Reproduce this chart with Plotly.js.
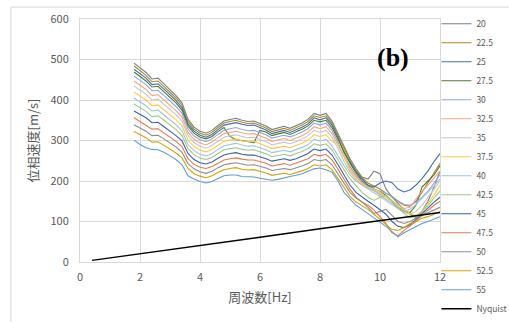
<!DOCTYPE html>
<html>
<head>
<meta charset="utf-8">
<script src="https://cdn.plot.ly/plotly-3.0.1.min.js"></script>
<style>html,body{margin:0;padding:0;background:#fff;}#chart{width:509px;height:322px;}</style>
</head>
<body>
<div id="chart"></div>
<script>
const freq = [1.8,2.0,2.2,2.4,2.6,2.8,3.0,3.2,3.4,3.6,3.8,4.0,4.2,4.4,4.6,4.8,5.0,5.2,5.4,5.6,5.8,6.0,6.2,6.4,6.6,6.8,7.0,7.2,7.4,7.6,7.8,8.0,8.2,8.4,8.6,8.8,9.0,9.2,9.4,9.6,9.8,10.0,10.2,10.4,10.6,10.8,11.0,11.2,11.4,11.6,11.8,12.0];

const seriesNames = ["20","22.5","25","27.5","30","32.5","35","37.5","40","42.5","45","47.5","50","52.5","55"];

const v20   = [491,479,468,452,454,440,426,411,393,352,333,323,318,325,337,348,352,355,350,347,348,342,336,327,331,335,330,336,343,352,367,362,367,348,316,284,255,231,210,205,224,218,180,160,145,130,118,110,125,150,185,225];
const v22_5 = [484,472,461,445,447,433,420,405,387,347,328,318,313,320,332,343,347,350,345,342,343,337,331,322,326,330,325,331,338,347,361,357,361,343,311,278,250,226,208,195,188,180,170,162,150,140,138,150,172,195,220,244];
const v25   = [476,465,454,438,440,427,413,399,381,341,323,313,308,315,327,338,341,344,340,337,338,332,326,317,321,325,320,326,333,341,356,351,356,338,307,270,245,222,205,190,185,195,200,196,180,173,178,190,206,225,248,268];
const v27_5 = [469,457,447,432,434,420,407,393,375,336,318,308,304,310,322,332,310,302,300,298,295,325,321,312,316,320,315,321,328,336,350,346,350,332,302,272,244,220,200,188,180,172,165,150,135,125,122,140,185,200,215,238];
const v30   = [459,448,438,423,424,411,398,384,367,329,311,302,297,304,315,325,329,332,327,324,325,320,314,306,309,313,309,314,321,329,343,338,343,325,295,262,236,214,198,186,178,175,170,160,150,142,140,148,160,175,195,215];
const v32_5 = [447,436,426,411,413,400,388,374,358,320,303,294,289,296,307,317,320,323,319,316,317,311,306,298,301,305,300,306,312,320,334,329,334,317,288,255,230,210,195,184,175,168,160,150,140,132,135,155,175,190,208,225];
const v35   = [435,424,414,400,402,389,377,364,348,312,295,286,281,288,298,308,312,314,310,307,308,303,297,289,293,296,292,297,304,312,325,320,325,308,280,248,222,204,190,180,170,160,150,142,132,122,118,125,140,160,180,200];
const v37_5 = [420,410,400,386,388,376,364,351,336,301,285,276,272,278,288,298,301,304,299,297,298,292,287,280,283,286,282,287,293,301,314,310,314,298,290,262,225,205,192,185,180,172,162,150,138,128,120,115,125,145,165,190];
const v40   = [405,395,386,373,375,363,351,339,324,290,275,266,262,268,278,287,290,293,289,286,287,282,277,270,273,276,272,277,283,290,303,299,303,287,261,238,215,200,190,182,176,165,155,145,132,125,130,142,158,172,188,205];
const v42_5 = [390,381,372,359,361,350,339,327,312,280,265,257,253,258,268,277,280,282,278,276,277,272,267,260,263,266,262,267,273,280,292,288,292,277,251,228,205,188,172,160,152,160,165,150,135,120,110,112,125,140,158,175];
const v45   = [373,364,356,344,345,334,324,312,299,268,253,245,242,247,256,264,268,270,266,264,264,260,255,249,252,255,251,255,261,268,279,275,279,264,240,215,190,172,160,150,140,130,118,100,88,85,92,105,120,135,148,160];
const v47_5 = [356,347,339,328,329,319,309,298,285,255,241,234,231,236,244,252,255,257,254,252,252,248,244,237,240,243,239,244,249,255,266,262,266,252,229,205,180,160,148,140,128,112,95,72,65,78,88,100,115,128,140,150];
const v50   = [339,331,323,312,313,304,294,284,271,243,230,223,219,224,233,240,243,245,242,239,240,236,232,226,228,231,228,232,237,243,253,250,253,240,218,195,172,158,148,135,120,125,130,115,100,95,100,108,115,120,128,135];
const v52_5 = [322,314,307,296,297,288,279,269,257,231,218,212,208,213,221,228,231,233,229,227,228,224,220,214,217,219,216,220,225,231,240,237,240,228,207,185,162,148,140,130,118,105,92,80,78,85,95,100,108,112,118,125];
const v55   = [301,290,282,278,277,271,262,253,240,213,205,199,195,199,206,213,215,215,211,211,210,207,204,202,204,208,211,214,218,224,230,232,228,222,200,172,155,140,130,120,110,100,88,75,62,72,80,88,95,100,106,112];

const nyquistX = [0.4, 2, 4, 6, 8, 10, 12];
const nyquistY = [4, 20, 41, 61, 82, 102, 122];

const seriesValues = [v20,v22_5,v25,v27_5,v30,v32_5,v35,v37_5,v40,v42_5,v45,v47_5,v50,v52_5,v55];
const seriesColors = ["#7F7F7F","#A88A1C","#3F6FAE","#4E7A34","#8EA6E0","#F4A680","#C6C6C6","#FFCC3A","#9DC3E6","#9CCB7E","#3A62B0","#E07A4C","#8C8C8C","#D2A500","#5E9CD8"];

const FONT = '"Noto Sans CJK JP", "Noto Sans", sans-serif';
const traces = seriesNames.map((n,i)=>({
  type:'scatter', mode:'lines', name:n, x:freq, y:seriesValues[i],
  line:{color:seriesColors[i], width:1.1}
}));
traces.push({type:'scatter', mode:'lines', name:'Nyquist', x:nyquistX, y:nyquistY, line:{color:'#000000', width:1.5}});

const layout = {
  width:509, height:322,
  margin:{l:80, r:69, t:19, b:60, autoexpand:false},
  paper_bgcolor:'#ffffff', plot_bgcolor:'#ffffff',
  font:{family:FONT, color:'#595959', size:11},
  showlegend:true,
  legend:{x:0.99, xanchor:'left', y:1.04, yanchor:'top', maxheight:400, font:{family:FONT, size:8.5, color:'#595959'}, bgcolor:'rgba(0,0,0,0)', tracegroupgap:0},
  xaxis:{range:[0,12], dtick:2, tick0:0, showgrid:true, gridcolor:'#D9D9D9', zeroline:false,
    showline:true, linecolor:'#D9D9D9', mirror:true, ticks:'outside', ticklen:5, tickcolor:'rgba(0,0,0,0)',
    tickfont:{size:11, color:'#595959'},
    title:{text:'周波数[Hz]', font:{size:13, color:'#595959'}, standoff:9}},
  yaxis:{range:[0,600], dtick:100, tick0:0, showgrid:true, gridcolor:'#D9D9D9', zeroline:false,
    showline:true, linecolor:'#D9D9D9', mirror:true, ticks:'outside', ticklen:8, tickcolor:'rgba(0,0,0,0)',
    tickfont:{size:11, color:'#595959'},
    title:{text:'位相速度[m/s]', font:{size:13, color:'#595959'}, standoff:8}},
  shapes:[{type:'rect', xref:'paper', yref:'paper', x0:-0.192, x1:1.4, y0:1.049, y1:-0.4, line:{color:'#D9D9D9', width:1}, fillcolor:'rgba(0,0,0,0)', layer:'below'}],
  annotations:[{xref:'paper', yref:'paper', x:0.919, y:0.909, text:'<b>(b)</b>', showarrow:false,
    font:{family:'"Liberation Serif", "DejaVu Serif", serif', size:26, color:'#000000'}}]
};

Plotly.newPlot('chart', traces, layout, {displayModeBar:false, staticPlot:true});
</script>
</body>
</html>
